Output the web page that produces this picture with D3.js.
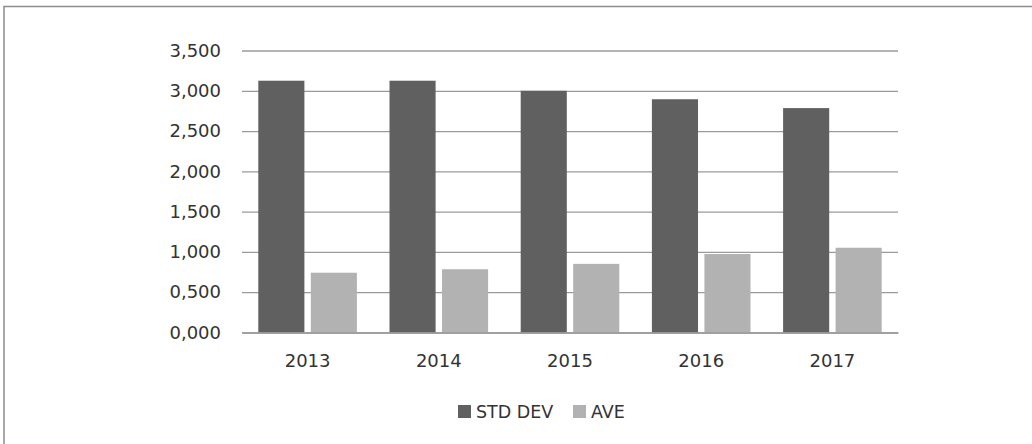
<!DOCTYPE html>
<html><head><meta charset="utf-8">
<script src="https://cdn.jsdelivr.net/npm/d3@7"></script>
<style>
html,body{margin:0;padding:0;background:#fff;}
svg{display:block;}
text{font-family:"DejaVu Sans",sans-serif;fill:#333;}
</style></head>
<body>
<svg id="chart" width="1032" height="444"></svg>
<script>
const categories = ["2013","2014","2015","2016","2017"];
const seriesNames = ["STD DEV","AVE"];
const stdDev = [3.125, 3.125, 3.000, 2.895, 2.785];
const ave = [0.742, 0.785, 0.852, 0.974, 1.052];
const yTicks = [0,0.5,1,1.5,2,2.5,3,3.5];
const colors = ["#606060","#b2b2b2"];

const svg = d3.select("#chart");
// outer border
svg.append("rect").attr("x",4).attr("y",6.5).attr("width",1100).attr("height",600)
  .attr("fill","none").attr("stroke","#8c8c8c").attr("stroke-width",1.5);

const pLeft = 242, pRight = 898, pTop = 50.5, pBottom = 332.5;
const x = d3.scaleBand().domain(categories).range([pLeft,pRight]).paddingInner(0).paddingOuter(0);
const y = d3.scaleLinear().domain([0,3.5]).range([pBottom,pTop]);
const inner = d3.scaleBand().domain(seriesNames).range([16.3, x.bandwidth()-16.3]).paddingInner(0.122);

const locale = d3.formatLocale({decimal:",", thousands:".", grouping:[3], currency:["","€"]});
const fmt = locale.format(".3f");

// gridlines
const yAxis = d3.axisLeft(y).tickValues(yTicks).tickSize(-(pRight-pLeft)).tickFormat(fmt).tickPadding(21);
const gy = svg.append("g").attr("transform",`translate(${pLeft},0)`).call(yAxis);
gy.select(".domain").remove();
gy.selectAll(".tick line").attr("stroke","#9a9a9a").attr("stroke-width",1.3);
gy.selectAll(".tick text").attr("font-size","18px").attr("fill","#333").style("font-family","DejaVu Sans");

// bars
const data = categories.map((c,i)=>({c, vals:[stdDev[i], ave[i]]}));
const groups = svg.append("g").selectAll("g").data(data).join("g")
  .attr("transform",d=>`translate(${x(d.c)},0)`);
groups.selectAll("rect").data(d=>d.vals.map((v,j)=>({s:seriesNames[j],v,j}))).join("rect")
  .attr("x",d=>inner(d.s)).attr("width",inner.bandwidth())
  .attr("y",d=>y(d.v)).attr("height",d=>y(0)-y(d.v))
  .attr("fill",d=>colors[d.j]);

// x axis
const xAxis = d3.axisBottom(x).tickSize(0).tickPadding(22);
const gx = svg.append("g").attr("transform",`translate(0,${pBottom})`).call(xAxis);
gx.select(".domain").attr("stroke","#9a9a9a").attr("stroke-width",1.3);
gx.selectAll(".tick text").attr("font-size","18px").attr("fill","#333").style("font-family","DejaVu Sans");

// legend
const legendItems = [{name:seriesNames[0],x:458,c:colors[0]},{name:seriesNames[1],x:573,c:colors[1]}];
const lg = svg.append("g");
legendItems.forEach(it=>{
  lg.append("rect").attr("x",it.x).attr("y",405).attr("width",13).attr("height",13).attr("fill",it.c);
  lg.append("text").attr("x",it.x+18).attr("y",418).attr("font-size","17.5px").text(it.name);
});
</script>
</body></html>
